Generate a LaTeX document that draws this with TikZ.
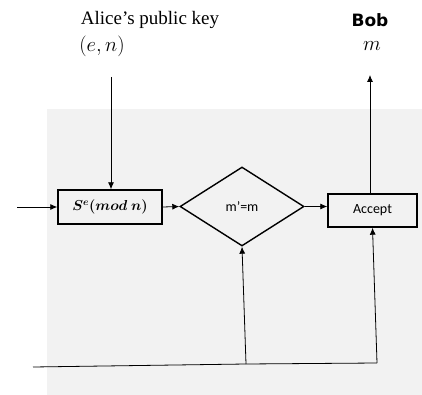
\documentclass[tikz,border=0pt]{standalone}
\usepackage{fontspec}
\setmainfont{Liberation Serif}
\newfontfamily\calfont{Carlito}
\newfontfamily\bobfont{DejaVu Sans}
\usetikzlibrary{shapes.geometric,arrows.meta}
\tikzset{
  arr/.style={-{Latex[length=7pt,width=6pt]}, line width=0.8pt},
  plain/.style={line width=0.8pt},
  boxed/.style={draw, line width=1.4pt, inner sep=0pt},
  serif19/.style={font=\fontsize{19}{22}\selectfont, inner sep=0pt},
  math21/.style={font=\fontsize{21}{24}\selectfont, inner sep=0pt},
  sans14/.style={font=\calfont\fontsize{14}{16}\selectfont},
}
\begin{document}
\begin{tikzpicture}[x=1pt,y=-1pt]
\useasboundingbox (0,0) rectangle (422,395);
\fill[gray!10] (47,109) rectangle (422,395);

\node[serif19] (alice) at (150,20) {Alice’s public key};
\node[math21] (en) at (102,46) {$(e,n)$};
\node[inner sep=0pt, font=\bobfont\bfseries\fontsize{17}{20}\selectfont] (bob) at (370,20) {Bob};
\node[math21] (m) at (372,46) {$m$};

\node[boxed, minimum width=104, minimum height=34, font=\fontsize{14}{16}\selectfont\boldmath] (smod) at (110,207) {$S^e(mod\ n)$};
\node[draw, diamond, line width=1.4pt, minimum width=124, minimum height=79, inner sep=0pt, sans14] (dia) at (242,206.5) {m’=m};
\node[boxed, minimum width=89, minimum height=33, sans14] (acc) at (372.5,210.5) {Accept};

\coordinate (alicetop) at (111,77);
\coordinate (leftin) at (17,207);
\coordinate (bobarr) at (370,75);
\coordinate (b0) at (33,367);
\coordinate (b1) at (246,364);
\coordinate (b2) at (377,363);

\draw[arr] (alicetop) -- (alicetop |- smod.north);
\draw[arr] (leftin) -- (smod.west);
\draw[arr] (smod.east) -- (dia.west);
\draw[arr] (dia.east) -- (acc.west |- dia.east);
\draw[arr] (bobarr |- acc.north) -- (bobarr);
\draw[plain] (b0) -- (b1) -- (b2);
\draw[arr] (b1) -- (dia.south);
\draw[arr] (b2) -- (acc.south);
\end{tikzpicture}
\end{document}
